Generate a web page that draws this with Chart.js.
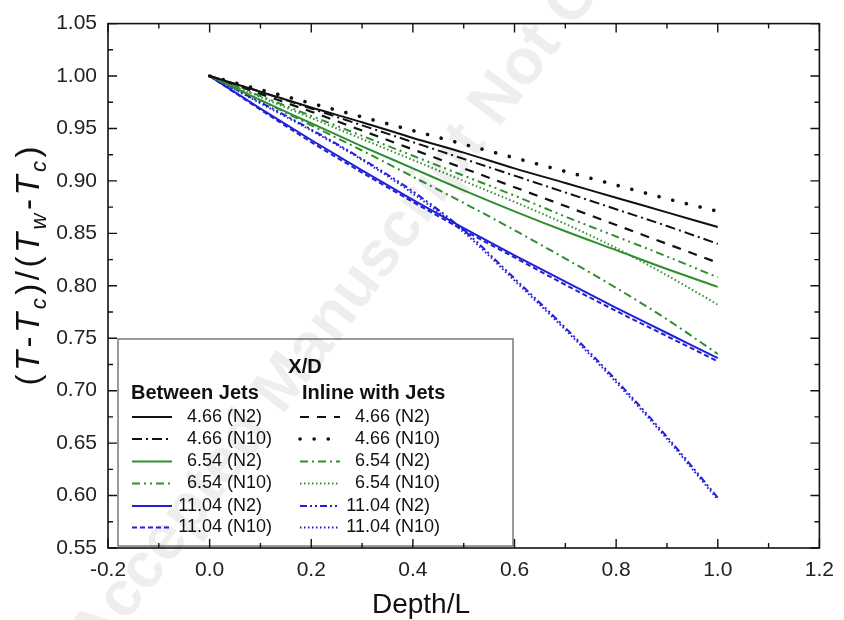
<!DOCTYPE html>
<html><head><meta charset="utf-8">
<script src="https://cdn.jsdelivr.net/npm/chart.js@4.4.1/dist/chart.umd.min.js"></script>
<style>html,body{margin:0;padding:0;background:#fff;}#wrap{width:844px;height:620px;}</style>
</head><body><div id="wrap"><canvas id="c" width="844" height="620"></canvas></div>
<script>
// ---- data ----
const depth = [0, 0.1, 0.2, 0.3, 0.4, 0.5, 0.6, 0.7, 0.8, 0.9, 1.0];
const xTicks = [-0.2, 0.0, 0.2, 0.4, 0.6, 0.8, 1.0, 1.2];
const yTicks = [0.55, 0.60, 0.65, 0.70, 0.75, 0.80, 0.85, 0.90, 0.95, 1.00, 1.05];
// Between jets
const between_466_N2  = [1.000, 0.985, 0.970, 0.956, 0.941, 0.927, 0.912, 0.898, 0.884, 0.870, 0.856];
const between_466_N10 = [1.000, 0.985, 0.969, 0.953, 0.937, 0.921, 0.905, 0.889, 0.873, 0.857, 0.840];
const between_654_N2  = [1.000, 0.977, 0.955, 0.933, 0.912, 0.891, 0.871, 0.852, 0.834, 0.816, 0.799];
const between_654_N10 = [1.000, 0.981, 0.962, 0.943, 0.924, 0.905, 0.886, 0.866, 0.847, 0.828, 0.808];
const between_1104_N2 = [1.000, 0.969, 0.939, 0.910, 0.882, 0.855, 0.829, 0.804, 0.779, 0.755, 0.731];
const between_1104_N10= [1.000, 0.968, 0.937, 0.908, 0.880, 0.853, 0.827, 0.801, 0.776, 0.752, 0.728];
// Inline with jets
const inline_466_N2   = [1.000, 0.983, 0.966, 0.948, 0.930, 0.912, 0.894, 0.876, 0.858, 0.840, 0.822];
const inline_466_N10  = [1.000, 0.987, 0.974, 0.961, 0.948, 0.935, 0.922, 0.909, 0.896, 0.883, 0.871];
const inline_654_N2   = [1.000, 0.977, 0.953, 0.929, 0.904, 0.879, 0.853, 0.826, 0.798, 0.768, 0.735];
const inline_654_N10  = [1.000, 0.980, 0.960, 0.940, 0.920, 0.900, 0.880, 0.859, 0.836, 0.810, 0.782];
const inline_1104_N2  = [1.000, 0.975, 0.949, 0.921, 0.890, 0.853, 0.807, 0.760, 0.710, 0.656, 0.598];
const inline_1104_N10 = [1.000, 0.974, 0.948, 0.920, 0.888, 0.851, 0.805, 0.758, 0.708, 0.654, 0.596];
const betweenLabels = ['4.66 (N2)', '4.66 (N10)', '6.54 (N2)', '6.54 (N10)', '11.04 (N2)', '11.04 (N10)'];
const inlineLabels  = ['4.66 (N2)', '4.66 (N10)', '6.54 (N2)', '6.54 (N10)', '11.04 (N2)', '11.04 (N10)'];

// ---- styles ----
const BLACK = '#111111', GREEN = '#2f8f2f', BLUE = '#2020d8';
const FONT = '"Liberation Sans", Arial, sans-serif';
const betweenSeries = [between_466_N2, between_466_N10, between_654_N2, between_654_N10, between_1104_N2, between_1104_N10];
const inlineSeries  = [inline_466_N2, inline_466_N10, inline_654_N2, inline_654_N10, inline_1104_N2, inline_1104_N10];
const betweenStyle = [
  {c: BLACK, d: [], w: 2},
  {c: BLACK, d: [10, 4, 2, 4], w: 2},
  {c: GREEN, d: [], w: 2},
  {c: GREEN, d: [8, 4, 2, 4, 2, 4], w: 2},
  {c: BLUE,  d: [], w: 2},
  {c: BLUE,  d: [5, 3], w: 2}
];
const inlineStyle = [
  {c: BLACK, d: [9, 8], w: 2.2},
  {c: BLACK, d: [0.1, 14], w: 3.6, cap: 'round'},
  {c: GREEN, d: [8, 4, 2, 4], w: 2},
  {c: GREEN, d: [1.5, 2.5], w: 2},
  {c: BLUE,  d: [7, 3, 2, 3, 2, 3], w: 2},
  {c: BLUE,  d: [1.5, 2.5], w: 2}
];

function mk(vals, st, label) {
  return {
    label: label,
    data: depth.map((x, i) => ({x: x, y: vals[i]})),
    borderColor: st.c, borderDash: st.d, borderWidth: st.w,
    borderCapStyle: st.cap || 'butt',
    pointRadius: 0, fill: false, cubicInterpolationMode: 'monotone'
  };
}
const datasets = [];
betweenSeries.forEach((v, i) => datasets.push(mk(v, betweenStyle[i], 'Between Jets ' + betweenLabels[i])));
inlineSeries.forEach((v, i) => datasets.push(mk(v, inlineStyle[i], 'Inline with Jets ' + inlineLabels[i])));

// ---- custom drawing plugin: legend, frame/ticks, axis titles, watermark ----
const decor = {
  id: 'decor',
  afterDraw(chart) {
    const ctx = chart.ctx, a = chart.chartArea, xs = chart.scales.x, ys = chart.scales.y;
    ctx.save();
    // legend
    const L = {l: 118, t: 339, r: 513, b: 546};
    ctx.fillStyle = '#fff';
    ctx.fillRect(L.l, L.t, L.r - L.l, L.b - L.t);
    ctx.strokeStyle = '#7a7a7a'; ctx.lineWidth = 1.5;
    ctx.strokeRect(L.l, L.t, L.r - L.l, L.b - L.t);
    ctx.fillStyle = '#111';
    ctx.textBaseline = 'middle';
    ctx.font = 'bold 20px ' + FONT;
    ctx.textAlign = 'center';
    ctx.fillText('X/D', 305, 367);
    ctx.textAlign = 'left';
    ctx.fillText('Between Jets', 131, 393);
    ctx.fillText('Inline with Jets', 302, 393);
    ctx.font = '18px ' + FONT;
    const rows = [417, 439, 461.5, 483.5, 506, 527.5];
    const cols = [{x: 132, n: 222, st: betweenStyle, lab: betweenLabels}, {x: 300, n: 390, st: inlineStyle, lab: inlineLabels}];
    cols.forEach(col => {
      rows.forEach((ry, i) => {
        const st = col.st[i];
        ctx.save();
        ctx.strokeStyle = st.c; ctx.lineWidth = st.w; ctx.setLineDash(st.d); ctx.lineCap = st.cap || 'butt';
        ctx.beginPath(); ctx.moveTo(col.x, ry); ctx.lineTo(col.x + 40, ry); ctx.stroke();
        ctx.restore();
        const parts = col.lab[i].split(' ');
        ctx.fillStyle = '#111';
        ctx.textAlign = 'right'; ctx.fillText(parts[0], col.n, ry);
        ctx.textAlign = 'left'; ctx.fillText(' ' + parts[1], col.n, ry);
      });
    });
    // frame
    ctx.strokeStyle = '#111'; ctx.lineWidth = 1.6; ctx.setLineDash([]);
    ctx.strokeRect(a.left, a.top, a.right - a.left, a.bottom - a.top);
    ctx.lineWidth = 1.4;
    ctx.beginPath();
    xTicks.forEach((v, i) => {
      const px = xs.getPixelForValue(v);
      ctx.moveTo(px, a.bottom); ctx.lineTo(px, a.bottom - 9);
      ctx.moveTo(px, a.top); ctx.lineTo(px, a.top + 9);
      if (i < xTicks.length - 1) {
        const m = xs.getPixelForValue((v + xTicks[i + 1]) / 2);
        ctx.moveTo(m, a.bottom); ctx.lineTo(m, a.bottom - 5);
        ctx.moveTo(m, a.top); ctx.lineTo(m, a.top + 5);
      }
    });
    yTicks.forEach((v, i) => {
      const py = ys.getPixelForValue(v);
      ctx.moveTo(a.left, py); ctx.lineTo(a.left + 9, py);
      ctx.moveTo(a.right, py); ctx.lineTo(a.right - 9, py);
      if (i < yTicks.length - 1) {
        const m = ys.getPixelForValue((v + yTicks[i + 1]) / 2);
        ctx.moveTo(a.left, m); ctx.lineTo(a.left + 5, m);
        ctx.moveTo(a.right, m); ctx.lineTo(a.right - 5, m);
      }
    });
    ctx.stroke();
    // x title
    ctx.fillStyle = '#111';
    ctx.font = '28px ' + FONT;
    ctx.textAlign = 'center'; ctx.textBaseline = 'alphabetic';
    ctx.fillText('Depth/L', 421, 613);
    // y title with italics and subscripts
    const segs = [
      ['(', 'n'], ['T', 'i'], ['-', 'n'], ['T', 'i'], ['c', 's'], [')', 'n'], ['/', 'n'], ['(', 'n'],
      ['T', 'i'], ['w', 's'], ['-', 'n'], ['T', 'i'], ['c', 's'], [')', 'n']
    ];
    const fs = 33, gap = 3.5;
    const fontOf = k => k === 'n' ? fs + 'px ' + FONT : (k === 'i' ? 'italic ' + fs + 'px ' + FONT : 'italic ' + Math.round(fs * 0.68) + 'px ' + FONT);
    let total = 0;
    segs.forEach(s => { ctx.font = fontOf(s[1]); total += ctx.measureText(s[0]).width + gap; });
    total -= gap;
    ctx.save();
    ctx.translate(39, 266);
    ctx.rotate(-Math.PI / 2);
    ctx.textAlign = 'left';
    let cx = -total / 2;
    segs.forEach(s => {
      ctx.font = fontOf(s[1]);
      ctx.fillText(s[0], cx, s[1] === 's' ? 7 : 0);
      cx += ctx.measureText(s[0]).width + gap;
    });
    ctx.restore();
    // watermark
    ctx.save();
    ctx.translate(98, 660);
    ctx.rotate(-53 * Math.PI / 180);
    ctx.font = 'bold 64px ' + FONT;
    ctx.fillStyle = 'rgba(0,0,0,0.065)';
    ctx.textAlign = 'left';
    ctx.fillText('Accepted Manuscript Not Copyedited', 0, 0);
    ctx.restore();
    ctx.restore();
  }
};

new Chart(document.getElementById('c'), {
  type: 'line',
  data: {datasets: datasets},
  options: {
    responsive: false, animation: false, devicePixelRatio: 1,
    layout: {padding: {top: 18, right: 17, left: 0, bottom: 0}},
    plugins: {legend: {display: false}, tooltip: {enabled: false}, title: {display: false}},
    scales: {
      x: {
        type: 'linear', min: -0.2, max: 1.2,
        afterBuildTicks: s => { s.ticks = xTicks.map(v => ({value: v})); },
        afterFit: s => { s.height = 72; },
        grid: {display: false, drawTicks: false}, border: {display: false},
        ticks: {padding: 10, color: '#222', font: {size: 21, family: FONT}, callback: v => Number(v).toFixed(1), maxRotation: 0, autoSkip: false}
      },
      y: {
        type: 'linear', min: 0.55, max: 1.05,
        afterBuildTicks: s => { s.ticks = yTicks.map(v => ({value: v})); },
        afterFit: s => { s.width = 108; },
        grid: {display: false, drawTicks: false}, border: {display: false},
        ticks: {padding: 11, color: '#222', font: {size: 21, family: FONT}, callback: v => Number(v).toFixed(2), autoSkip: false}
      }
    }
  },
  plugins: [decor]
});
</script>
</body></html>
